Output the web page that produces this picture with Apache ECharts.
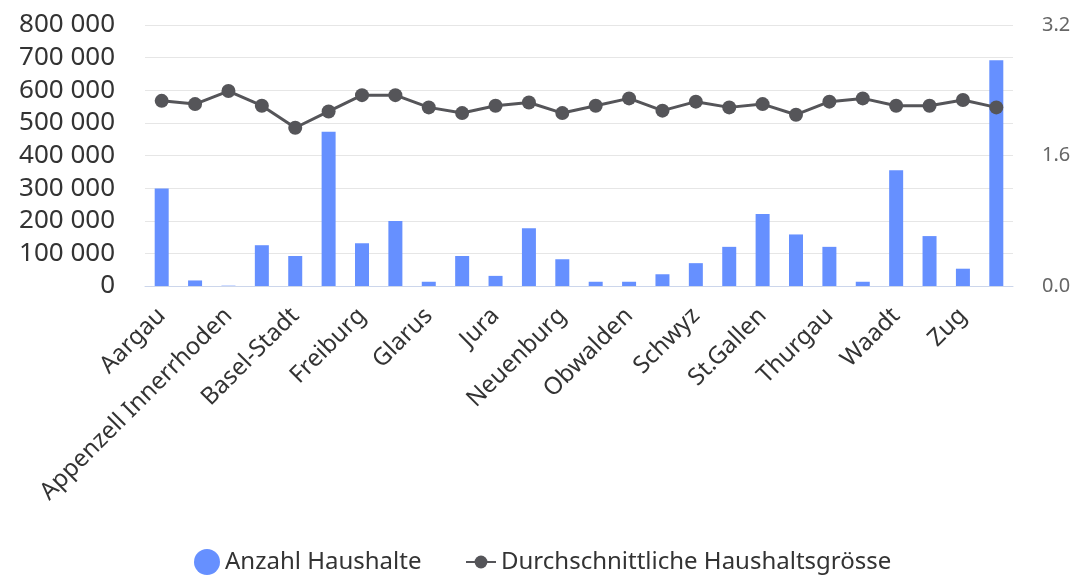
<!DOCTYPE html>
<html>
<head>
<meta charset="utf-8">
<script src="https://cdn.jsdelivr.net/npm/echarts@6/dist/echarts.min.js"></script>
<style>
  html, body { margin: 0; padding: 0; background: #fff; }
  #main { width: 1082px; height: 577px; }
</style>
</head>
<body>
<div id="main"></div>
<script>
var myChart = echarts.init(document.getElementById('main'), null, {renderer: 'canvas'});

// cantons
var kantone = ['Aargau', 'Appenzell Ausserrhoden', 'Appenzell Innerrhoden', 'Basel-Landschaft', 'Basel-Stadt',
    'Bern', 'Freiburg', 'Genf', 'Glarus', 'Graubünden', 'Jura', 'Luzern', 'Neuenburg', 'Nidwalden',
    'Obwalden', 'Schaffhausen', 'Schwyz', 'Solothurn', 'St.Gallen', 'Tessin', 'Thurgau', 'Uri',
    'Waadt', 'Wallis', 'Zug', 'Zürich'];
var haushalte = [299000, 17000, 1000, 125000, 92000, 473000, 131000, 199000, 13000, 92000, 31000, 177000,
    82000, 13000, 13000, 36000, 70000, 120000, 221000, 158000, 120000, 13000, 355000, 153000, 53000, 692000];
var groesse = [2.27, 2.23, 2.39, 2.21, 1.94, 2.14, 2.34, 2.34, 2.19, 2.12, 2.21, 2.25,
    2.12, 2.21, 2.30, 2.15, 2.26, 2.19, 2.23, 2.10, 2.26, 2.30, 2.21, 2.21, 2.28, 2.19];
var leftTicks = [0, 800000, 100000];   // min, max, interval
var rightTicks = [0, 3.2, 1.6];

var font = 'Noto Sans';

function fmt(v) {
    return String(v).replace(/\B(?=(\d{3})+(?!\d))/g, ' ');
}

var option = {
    backgroundColor: '#fff',
    textStyle: { fontFamily: font },
    grid: { left: 145, right: 69, top: 25, bottom: 291 },
    legend: [
        {
            left: 189, top: 544,
            itemWidth: 26, itemHeight: 26, itemGap: 6,
            textStyle: { fontSize: 24, color: '#333', fontFamily: font, lineHeight: 26 },
            data: [{ name: 'Anzahl Haushalte', icon: 'circle' }]
        },
        {
            left: 460, top: 544,
            itemWidth: 30, itemHeight: 16, itemGap: 6,
            textStyle: { fontSize: 24, color: '#333', fontFamily: font, lineHeight: 26 },
            data: [{ name: 'Durchschnittliche Haushaltsgrösse' }]
        }
    ],
    xAxis: {
        type: 'category',
        data: kantone,
        axisLine: { lineStyle: { color: '#ccd6eb' } },
        axisTick: { show: false },
        axisLabel: {
            interval: 1,
            rotate: 45,
            fontSize: 24,
            color: '#333',
            margin: 26
        }
    },
    yAxis: [
        {
            type: 'value',
            min: leftTicks[0], max: leftTicks[1], interval: leftTicks[2],
            axisLabel: { fontSize: 26, color: '#333', margin: 30, formatter: fmt },
            splitLine: { lineStyle: { color: '#e6e6e6', width: 1 } }
        },
        {
            type: 'value',
            min: rightTicks[0], max: rightTicks[1], interval: rightTicks[2],
            axisLabel: { fontSize: 20, color: '#666', margin: 29, formatter: function (v) { return v.toFixed(1); } },
            splitLine: { show: false }
        }
    ],
    series: [
        {
            name: 'Anzahl Haushalte',
            type: 'bar',
            data: haushalte,
            barWidth: 14,
            itemStyle: { color: '#6690ff' }
        },
        {
            name: 'Durchschnittliche Haushaltsgrösse',
            type: 'line',
            yAxisIndex: 1,
            data: groesse,
            symbol: 'circle',
            symbolSize: 14,
            lineStyle: { color: '#555559', width: 3 },
            itemStyle: { color: '#555559' }
        }
    ]
};

myChart.setOption(option);
</script>
</body>
</html>
